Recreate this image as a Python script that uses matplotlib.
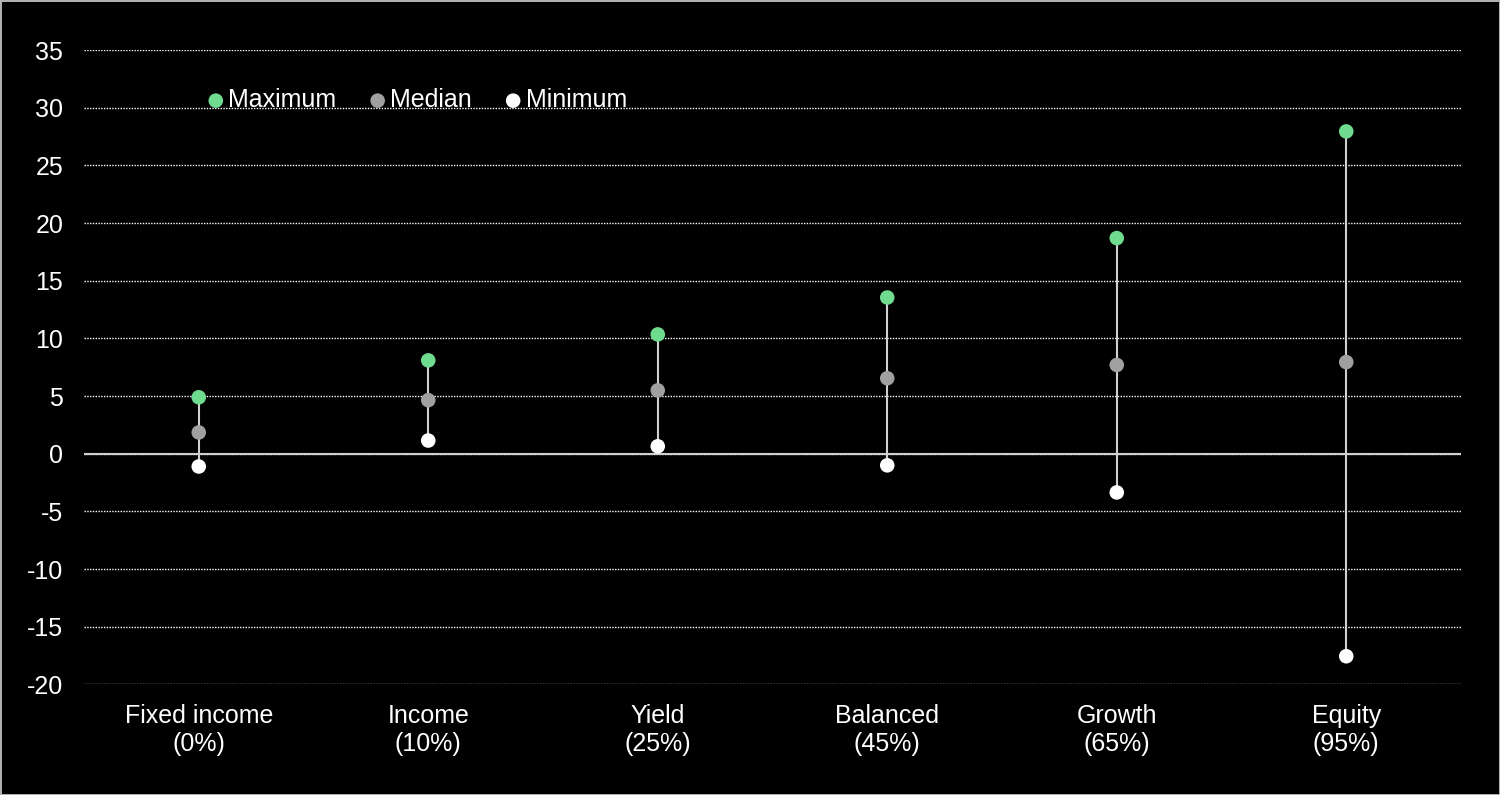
import numpy as np
import matplotlib
matplotlib.use("Agg")
import matplotlib.pyplot as plt

# Datos
categorias = ["Fixed income\n(0%)", "Income\n(10%)", "Yield\n(25%)",
              "Balanced\n(45%)", "Growth\n(65%)", "Equity\n(95%)"]
maximo = [4.9, 8.1, 10.35, 13.55, 18.7, 27.95]
mediana = [1.85, 4.65, 5.5, 6.55, 7.7, 7.95]
minimo = [-1.1, 1.15, 0.65, -1.0, -3.35, -17.55]

plt.rcParams['font.family'] = ['Liberation Sans', 'DejaVu Sans']
plt.rcParams['axes.unicode_minus'] = False

verde = '#6fdb8f'
gris = '#a0a0a0'

fig = plt.figure(figsize=(15, 7.95), dpi=100, facecolor='black',
                 edgecolor='#b0b0b0', linewidth=2)
ax = fig.add_axes([0.056, 0.139, 0.918, 0.798])
ax.set_facecolor('black')

x = np.arange(len(categorias))

# Líneas de rango (mínimo a máximo)
ax.vlines(x, minimo, maximo, color='#d0d0d0', linewidth=1.5, zorder=3)

# Puntos
ax.scatter(x, maximo, s=110, color=verde, zorder=4, label='Maximum', edgecolors='none')
ax.scatter(x, mediana, s=110, color=gris, zorder=4, label='Median', edgecolors='none')
ax.scatter(x, minimo, s=110, color='white', zorder=4, label='Minimum', edgecolors='none')

# Línea del cero
ax.axhline(0, color='#d0d0d0', linewidth=1.5, zorder=2)

ax.set_xlim(-0.5, len(categorias) - 0.5)
ax.set_ylim(-20, 35)
ax.set_yticks(np.arange(-20, 36, 5))
ax.grid(axis='y', color='white', linestyle=(0, (1, 1)), linewidth=1, zorder=1)
ax.set_axisbelow(True)

ax.set_xticks(x)
ax.set_xticklabels(categorias, color='white', fontsize=18, linespacing=1.2)
ax.tick_params(axis='y', colors='white', labelsize=18, length=0, pad=15)
ax.tick_params(axis='x', length=0, pad=14)
for spine in ax.spines.values():
    spine.set_visible(False)

leg = ax.legend(loc='center left', bbox_to_anchor=(0.083, 0.921), ncol=3,
                frameon=False, fontsize=18, labelcolor='white',
                handlelength=0.6, handletextpad=0.2, columnspacing=1.35,
                borderaxespad=0)

fig.savefig('out.png', dpi=100, facecolor=fig.get_facecolor(),
            edgecolor=fig.get_edgecolor())
